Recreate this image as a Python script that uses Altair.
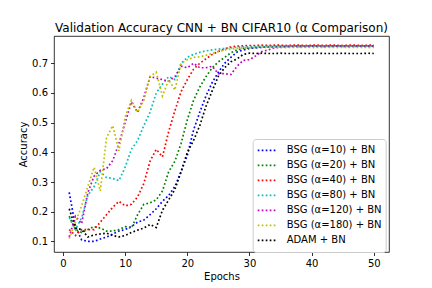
import altair as alt
import pandas as pd

epochs = list(range(1, 51))

series_names = [
    "BSG (α=10) + BN",
    "BSG (α=20) + BN",
    "BSG (α=40) + BN",
    "BSG (α=80) + BN",
    "BSG (α=120) + BN",
    "BSG (α=180) + BN",
    "ADAM + BN",
]
series_colors = ["#0000ff", "#008000", "#ff0000", "#00bfbf", "#bf00bf", "#bfbf00", "#000000"]

acc_a10 = [0.265, 0.15, 0.105, 0.10, 0.10, 0.108, 0.115, 0.125, 0.135, 0.14,
           0.15, 0.165, 0.172, 0.19, 0.21, 0.235, 0.255, 0.285, 0.335, 0.39,
           0.475, 0.535, 0.59, 0.635, 0.67, 0.70, 0.72, 0.738, 0.745, 0.75,
           0.752, 0.754, 0.755, 0.756, 0.756, 0.757, 0.757, 0.758, 0.757, 0.758,
           0.758, 0.757, 0.758, 0.758, 0.758, 0.757, 0.758, 0.758, 0.758, 0.758]
acc_a20 = [0.185, 0.14, 0.13, 0.14, 0.15, 0.145, 0.135, 0.135, 0.14, 0.15,
           0.145, 0.19, 0.225, 0.23, 0.24, 0.27, 0.335, 0.37, 0.43, 0.51,
           0.575, 0.62, 0.655, 0.685, 0.705, 0.72, 0.735, 0.745, 0.75, 0.752,
           0.754, 0.755, 0.756, 0.756, 0.757, 0.757, 0.758, 0.757, 0.758, 0.758,
           0.758, 0.757, 0.758, 0.758, 0.757, 0.758, 0.758, 0.758, 0.758, 0.758]
acc_a40 = [0.14, 0.12, 0.14, 0.14, 0.14, 0.165, 0.19, 0.215, 0.235, 0.22,
           0.225, 0.25, 0.295, 0.37, 0.41, 0.385, 0.47, 0.54, 0.605, 0.645,
           0.68, 0.70, 0.715, 0.73, 0.74, 0.748, 0.755, 0.758, 0.759, 0.76,
           0.76, 0.761, 0.76, 0.761, 0.761, 0.76, 0.761, 0.761, 0.76, 0.761,
           0.761, 0.76, 0.761, 0.761, 0.76, 0.761, 0.761, 0.76, 0.761, 0.761]
acc_a80 = [0.18, 0.14, 0.18, 0.255, 0.285, 0.335, 0.315, 0.312, 0.305, 0.35,
           0.41, 0.44, 0.49, 0.535, 0.60, 0.63, 0.655, 0.645, 0.70, 0.72,
           0.73, 0.737, 0.742, 0.745, 0.748, 0.75, 0.752, 0.754, 0.755, 0.756,
           0.756, 0.757, 0.757, 0.758, 0.757, 0.758, 0.758, 0.757, 0.758, 0.758,
           0.758, 0.758, 0.757, 0.758, 0.758, 0.758, 0.757, 0.758, 0.758, 0.758]
acc_a120 = [0.115, 0.185, 0.16, 0.265, 0.32, 0.34, 0.345, 0.372, 0.43, 0.50,
            0.57, 0.535, 0.585, 0.655, 0.65, 0.645, 0.64, 0.655, 0.69, 0.685,
            0.70, 0.685, 0.685, 0.69, 0.665, 0.665, 0.662, 0.69, 0.71, 0.712,
            0.725, 0.74, 0.745, 0.752, 0.754, 0.755, 0.756, 0.755, 0.756, 0.757,
            0.756, 0.757, 0.756, 0.757, 0.757, 0.756, 0.757, 0.757, 0.756, 0.757]
acc_a180 = [0.11, 0.165, 0.22, 0.285, 0.35, 0.27, 0.45, 0.49, 0.405, 0.52,
            0.575, 0.535, 0.575, 0.655, 0.67, 0.59, 0.645, 0.61, 0.70, 0.712,
            0.72, 0.722, 0.727, 0.733, 0.74, 0.745, 0.748, 0.75, 0.752, 0.752,
            0.753, 0.754, 0.753, 0.754, 0.754, 0.753, 0.754, 0.754, 0.754, 0.753,
            0.754, 0.754, 0.754, 0.753, 0.754, 0.754, 0.754, 0.754, 0.753, 0.754]
acc_adam = [0.21, 0.145, 0.14, 0.115, 0.122, 0.125, 0.128, 0.12, 0.115, 0.12,
            0.13, 0.138, 0.145, 0.157, 0.147, 0.205, 0.24, 0.275, 0.335, 0.40,
            0.44, 0.49, 0.555, 0.607, 0.657, 0.685, 0.705, 0.715, 0.73, 0.734,
            0.733, 0.734, 0.733, 0.733, 0.734, 0.733, 0.733, 0.734, 0.733, 0.733,
            0.734, 0.733, 0.733, 0.733, 0.734, 0.733, 0.733, 0.733, 0.734, 0.733]

all_series = [acc_a10, acc_a20, acc_a40, acc_a80, acc_a120, acc_a180, acc_adam]

rows = []
for order, (name, vals) in enumerate(zip(series_names, all_series)):
    for e, v in zip(epochs, vals):
        rows.append({"Epoch": e, "Accuracy": v, "Series": name, "order": order})
df = pd.DataFrame(rows)

FONT = "DejaVu Sans"

chart = alt.Chart(df).mark_line(
    strokeDash=[1.7, 2.3], strokeWidth=1.7, clip=True
).encode(
    x=alt.X("Epoch:Q",
            scale=alt.Scale(domain=[-1.45, 52.45], nice=False, zero=False),
            axis=alt.Axis(title="Epochs", values=[0, 10, 20, 30, 40, 50], format="d")),
    y=alt.Y("Accuracy:Q",
            scale=alt.Scale(domain=[0.0644, 0.792], nice=False, zero=False),
            axis=alt.Axis(title="Accuracy", values=[0.1, 0.2, 0.3, 0.4, 0.5, 0.6, 0.7], format=".1f")),
    color=alt.Color("Series:N",
                    scale=alt.Scale(domain=series_names, range=series_colors),
                    sort=series_names,
                    legend=alt.Legend(
                        title=None, orient="none", legendX=198.7, legendY=103,
                        symbolType="stroke", symbolSize=324, symbolStrokeWidth=1.7,
                        symbolDash=[1.7, 2.3], labelFont=FONT, labelFontSize=10,
                        labelColor="#000", labelOffset=10, padding=4,
                        fillColor="white", strokeColor="#cccccc", cornerRadius=3,
                        clipHeight=14.7, rowPadding=0, labelLimit=200)),
    detail="order:N",
).properties(
    width=335, height=216,
    title=alt.Title("Validation Accuracy CNN + BN CIFAR10 (α Comparison)",
                    font=FONT, fontSize=12, fontWeight="normal", color="#000",
                    anchor="middle", offset=1),
    autosize=alt.AutoSizeParams(type="none"),
    padding={"left": 46, "top": 28, "right": 35, "bottom": 32},
).configure_view(
    stroke="#000", strokeWidth=0.8
).configure_axis(
    grid=False, domain=False, tickColor="#000", tickWidth=0.8, tickSize=3.5,
    labelFont=FONT, labelFontSize=10, labelColor="#000", labelPadding=3,
    titleFont=FONT, titleFontSize=10, titleColor="#000", titleFontWeight="normal",
    titlePadding=3
)

chart.save("out.html", embed_options={"renderer": "svg", "actions": False})
